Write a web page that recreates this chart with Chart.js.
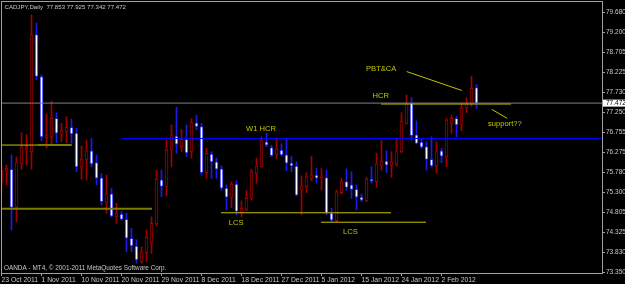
<!DOCTYPE html>
<html>
<head>
<meta charset="utf-8">
<script src="https://cdn.jsdelivr.net/npm/chart.js@4.4.1/dist/chart.umd.min.js"></script>
<style>
  html, body { margin: 0; padding: 0; background: #000; }
  #wrap { width: 625px; height: 284px; }
</style>
</head>
<body>
<div id="wrap"><canvas id="chart" width="625" height="284"></canvas></div>
<script>
// CADJPY daily candles

const symbolTitle = "CADJPY,Daily  77.853 77.925 77.342 77.472";
const copyright = "OANDA - MT4, \u00a9 2001-2011 MetaQuotes Software Corp.";

// one date label every 8 bars
const tickLabels = ["23 Oct 2011", "1 Nov 2011", "10 Nov 2011", "20 Nov 2011", "29 Nov 2011", "8 Dec 2011",
    "18 Dec 2011", "27 Dec 2011", "5 Jan 2012", "15 Jan 2012", "24 Jan 2012", "2 Feb 2012"];
const labelEvery = 8;

const priceTicks = [79.680, 79.200, 78.705, 78.225, 77.730, 77.250, 76.755, 76.275,
    75.780, 75.300, 74.805, 74.325, 73.830, 73.350];
const bidPrice = 77.472;

const open = [75.56, 75.83, 75.86, 74.93, 76.00, 76.37, 76.29, 79.14, 78.12, 76.63,
    76.65, 77.10, 76.71, 76.78, 76.88, 76.74, 75.92, 76.10, 76.31, 76.02,
    75.65, 75.05, 75.26, 74.70, 74.77, 74.64, 74.18, 73.99, 73.62, 73.83,
    74.06, 74.53, 75.60, 75.44, 76.33, 76.67, 76.41, 76.59, 76.29, 76.99,
    76.90, 75.78, 76.23, 76.04, 75.87, 75.40, 75.18, 75.50, 74.79, 74.88,
    75.15, 75.76, 75.92, 76.53, 76.39, 76.21, 76.33, 76.21, 76.01, 75.94,
    75.35, 75.44, 75.64, 75.72, 75.65, 75.66, 74.79, 74.61, 75.29, 75.56,
    75.48, 75.37, 75.18, 75.09, 75.60, 75.56, 75.94, 76.06, 75.96, 75.99,
    76.29, 76.98, 77.47, 76.70, 76.52, 76.41, 76.10, 75.94, 76.31, 76.16,
    76.98, 77.10, 76.94, 77.35, 77.47, 77.853];
const high = [75.96, 75.96, 76.21, 76.16, 76.75, 76.70, 79.62, 79.42, 78.16, 77.21,
    77.52, 77.24, 76.98, 77.14, 77.08, 76.86, 76.43, 76.57, 76.61, 76.21,
    75.76, 75.72, 75.40, 75.03, 74.83, 74.79, 74.42, 74.14, 73.97, 74.38,
    74.70, 75.84, 75.84, 76.57, 76.94, 77.37, 76.83, 76.94, 77.10, 77.18,
    76.98, 76.37, 76.29, 76.13, 75.94, 75.48, 75.55, 75.58, 75.09, 75.35,
    75.86, 76.13, 76.65, 76.74, 76.45, 76.59, 76.48, 76.61, 76.17, 76.04,
    75.70, 75.77, 76.18, 75.88, 75.88, 75.84, 74.91, 75.35, 75.64, 75.87,
    75.80, 75.48, 75.26, 75.66, 75.92, 76.25, 76.56, 76.31, 76.29, 76.61,
    77.24, 77.67, 77.61, 77.04, 76.61, 76.53, 76.65, 76.53, 76.37, 77.10,
    77.18, 77.14, 77.48, 77.61, 78.13, 77.925];
const low = [75.27, 75.48, 74.38, 74.58, 75.86, 75.96, 75.86, 78.04, 76.55, 76.38,
    76.45, 76.51, 76.53, 76.51, 76.49, 75.80, 75.62, 75.60, 75.92, 75.48,
    74.99, 74.79, 74.70, 74.54, 74.62, 73.85, 73.85, 73.57, 73.57, 73.61,
    73.81, 74.48, 75.19, 75.21, 75.92, 76.25, 76.29, 76.17, 76.13, 76.82,
    75.72, 75.64, 75.64, 75.64, 75.35, 74.87, 74.93, 74.75, 74.70, 74.85,
    75.11, 75.52, 75.91, 76.41, 76.17, 76.13, 76.18, 75.83, 75.80, 75.21,
    74.75, 75.29, 75.58, 75.52, 75.35, 74.75, 74.58, 74.57, 75.26, 75.35,
    75.15, 74.87, 75.07, 75.07, 75.52, 75.42, 75.84, 75.78, 75.66, 75.94,
    76.26, 76.96, 76.57, 76.48, 76.37, 75.84, 75.91, 75.76, 76.02, 75.92,
    76.74, 76.65, 76.80, 77.24, 77.39, 77.342];
const close = [75.84, 75.88, 74.93, 76.02, 76.40, 76.41, 79.13, 78.12, 76.65, 76.67,
    77.10, 76.74, 76.80, 76.88, 76.72, 75.92, 76.11, 76.31, 75.99, 75.64,
    75.07, 75.26, 74.72, 74.79, 74.64, 74.18, 73.99, 73.65, 73.83, 74.20,
    74.54, 75.62, 75.44, 76.33, 76.70, 76.47, 76.59, 76.26, 76.99, 76.90,
    75.78, 76.25, 76.04, 75.86, 75.40, 75.18, 75.50, 74.83, 74.91, 75.15,
    75.80, 75.94, 76.56, 76.45, 76.19, 76.35, 76.21, 76.01, 75.94, 75.23,
    75.44, 75.68, 75.72, 75.64, 75.67, 74.79, 74.62, 75.31, 75.56, 75.42,
    75.37, 75.18, 75.11, 75.62, 75.57, 75.99, 76.06, 75.96, 76.04, 76.31,
    77.02, 77.47, 76.68, 76.49, 76.40, 76.10, 75.94, 76.31, 76.18, 77.06,
    77.10, 76.94, 77.35, 77.48, 77.83, 77.472];

// hand drawn objects, [bar, price] pairs
const w1hcrLine = [[24.1, 76.61], [121, 76.61]];
const hcrLine = [[75.9, 77.45], [101.9, 77.45]];
const lcsLine1 = [[43.9, 74.80], [77.9, 74.80]];
const lcsLine2 = [[63.9, 74.57], [84.9, 74.57]];
const oldLevelA = [[-1, 76.45], [7.2, 76.45]];
const oldLevelB = [[7.2, 76.45], [14.05, 76.45]];
const oldLevelC = [[-1, 74.90], [30.1, 74.90]];
const pbtLine = [[81.05, 78.24], [92.05, 77.78]];
const supportLine = [[98.05, 77.32], [101.15, 77.10]];

const notes = [
    ["PBT&CA", 72.9, 78.30],
    ["HCR", 74.2, 77.64],
    ["W1 HCR", 48.9, 76.85],
    ["LCS", 45.45, 74.55],
    ["LCS", 68.3, 74.33],
    ["support??", 97.3, 76.96]
];

const RED = '#a00000';
const BLUE = '#1c1ce6';
const YEL = '#c4c400';
const OLIVE = '#7c7c00';
const FONT = "'Liberation Sans', Arial, sans-serif";

const isUp = i => close[i] >= open[i];

function seg(pts, color, width) {
    return {
        type: 'line',
        data: pts.map(p => ({ x: p[0], y: p[1] })),
        borderColor: color,
        borderWidth: width || 1,
        pointRadius: 0,
        fill: false,
        order: -1
    };
}

const mtPlugin = {
    id: 'mt4',
    beforeDraw(chart) {
        const ctx = chart.ctx;
        ctx.save();
        ctx.fillStyle = '#000';
        ctx.fillRect(0, 0, chart.width, chart.height);
        ctx.restore();
    },
    afterDraw(chart) {
        const ctx = chart.ctx;
        const a = chart.chartArea;
        const xs = chart.scales.x, ys = chart.scales.y;
        ctx.save();
        // frame
        ctx.strokeStyle = '#a0a0a0';
        ctx.lineWidth = 1;
        ctx.strokeRect(Math.round(a.left) + 0.5, Math.round(a.top) + 0.5,
            Math.round(a.right - a.left) - 1, Math.round(a.bottom - a.top) - 1);

        // notes
        ctx.fillStyle = YEL;
        ctx.font = "7.6px " + FONT;
        ctx.textAlign = 'left';
        ctx.textBaseline = 'middle';
        notes.forEach(n => ctx.fillText(n[0], xs.getPixelForValue(n[1]), ys.getPixelForValue(n[2])));

        // title and copyright
        ctx.fillStyle = '#c8c8c8';
        ctx.font = "6.1px " + FONT;
        ctx.fillText(symbolTitle, a.left + 3.5, a.top + 6);
        ctx.font = "6.4px " + FONT;
        ctx.fillText(copyright, a.left + 3, a.bottom - 5.5);

        // bid price box
        const by = ys.getPixelForValue(bidPrice);
        ctx.fillStyle = '#ffffff';
        ctx.fillRect(a.right, by - 3.5, chart.width - a.right, 7);
        ctx.fillStyle = '#000';
        ctx.font = "6.5px " + FONT;
        ctx.fillText(bidPrice.toFixed(3), a.right + 3, by + 0.3);
        ctx.restore();
    }
};

const ctx = document.getElementById('chart').getContext('2d');
new Chart(ctx, {
    type: 'bar',
    data: {
        datasets: [
            {
                label: 'body',
                data: open.map((o, i) => ({ x: i, y: [o, close[i]] })),
                backgroundColor: c => isUp(c.dataIndex) ? '#000000' : '#ffffff',
                borderColor: c => isUp(c.dataIndex) ? RED : BLUE,
                borderWidth: 1,
                borderSkipped: false,
                barThickness: 3,
                minBarLength: 2,
                grouped: false,
                order: 0
            },
            {
                label: 'wick',
                data: low.map((l, i) => ({ x: i, y: [l, high[i]] })),
                backgroundColor: c => isUp(c.dataIndex) ? RED : BLUE,
                borderWidth: 0,
                barThickness: 1,
                grouped: false,
                order: 1
            },
            seg([[-1, bidPrice], [121, bidPrice]], '#808080'),
            seg(w1hcrLine, '#0000ff'),
            seg(hcrLine, YEL),
            seg(lcsLine1, YEL),
            seg(lcsLine2, YEL),
            seg(oldLevelA, YEL),
            seg(oldLevelB, OLIVE, 2),
            seg(oldLevelC, OLIVE, 2),
            seg(pbtLine, YEL),
            seg(supportLine, YEL)
        ]
    },
    options: {
        responsive: false,
        animation: false,
        layout: { padding: { top: 1, left: 1, right: 0, bottom: 0 } },
        plugins: { legend: { display: false }, tooltip: { enabled: false } },
        scales: {
            x: {
                type: 'linear',
                min: -0.1,
                max: 120.3,
                offset: false,
                bounds: 'data',
                border: { display: false },
                grid: { drawOnChartArea: false, offset: false, color: '#a0a0a0', tickLength: 2 },
                afterBuildTicks: s => { s.ticks = tickLabels.map((_, k) => ({ value: k * labelEvery })); },
                afterFit: s => { s.height = 10; s.paddingLeft = 0; s.paddingRight = 0; },
                ticks: {
                    autoSkip: false,
                    maxRotation: 0,
                    minRotation: 0,
                    align: 'start',
                    padding: 0,
                    color: '#c8c8c8',
                    font: { family: FONT, size: 6.8 },
                    callback: (v, i) => tickLabels[i]
                }
            },
            y: {
                position: 'right',
                min: 73.308,
                max: 79.960,
                bounds: 'data',
                border: { display: false },
                grid: { drawOnChartArea: false, color: '#a0a0a0', tickLength: 2 },
                afterBuildTicks: s => { s.ticks = priceTicks.map(v => ({ value: v })); },
                afterFit: s => { s.width = 22; s.paddingTop = 0; s.paddingBottom = 0; },
                ticks: {
                    padding: 1,
                    color: '#c8c8c8',
                    font: { family: FONT, size: 6.5 },
                    callback: v => v.toFixed(3)
                }
            }
        }
    },
    plugins: [mtPlugin]
});
</script>
</body>
</html>
